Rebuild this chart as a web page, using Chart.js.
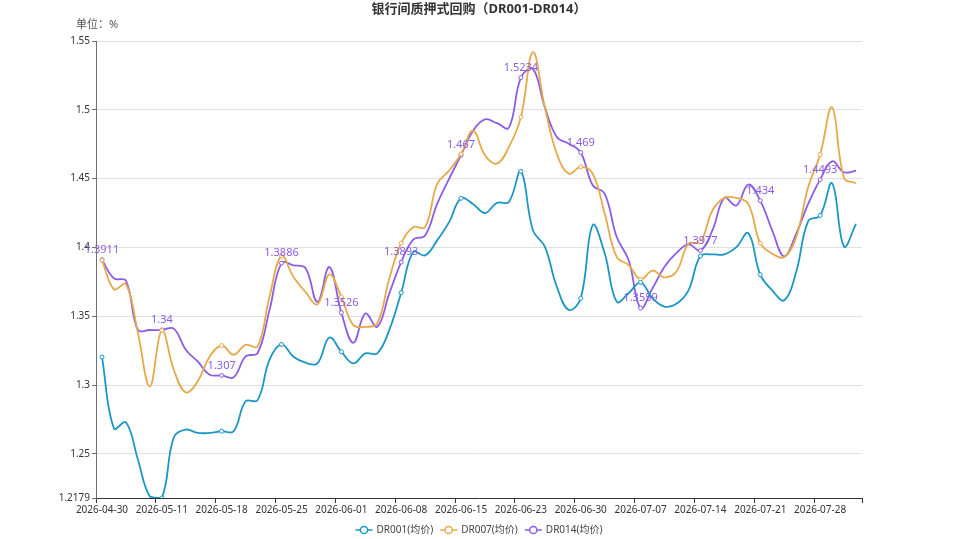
<!DOCTYPE html>
<html>
<head>
<meta charset="utf-8">
<script src="https://cdn.jsdelivr.net/npm/chart.js@4.4.1/dist/chart.umd.min.js"></script>
<style>
  html, body { margin: 0; padding: 0; background: #fff; }
  #wrap { width: 958px; height: 539px; position: relative; }
</style>
</head>
<body>
<div id="wrap"><canvas id="myChart" width="958" height="539"></canvas></div>
<script>
// trading days
const dates = [
  '2026-04-30','2026-05-06','2026-05-07','2026-05-08','2026-05-09',
  '2026-05-11','2026-05-12','2026-05-13','2026-05-14','2026-05-15',
  '2026-05-18','2026-05-19','2026-05-20','2026-05-21','2026-05-22',
  '2026-05-25','2026-05-26','2026-05-27','2026-05-28','2026-05-29',
  '2026-06-01','2026-06-02','2026-06-03','2026-06-04','2026-06-05',
  '2026-06-08','2026-06-09','2026-06-10','2026-06-11','2026-06-12',
  '2026-06-15','2026-06-16','2026-06-17','2026-06-18','2026-06-22',
  '2026-06-23','2026-06-24','2026-06-25','2026-06-26','2026-06-29',
  '2026-06-30','2026-07-01','2026-07-02','2026-07-03','2026-07-06',
  '2026-07-07','2026-07-08','2026-07-09','2026-07-10','2026-07-13',
  '2026-07-14','2026-07-15','2026-07-16','2026-07-17','2026-07-20',
  '2026-07-21','2026-07-22','2026-07-23','2026-07-24','2026-07-27',
  '2026-07-28','2026-07-29','2026-07-30','2026-07-31'
];

const dr001 = [
  1.3203, 1.2684, 1.2729, 1.2459, 1.2190, 1.2179, 1.2620, 1.2676, 1.2652, 1.2652,
  1.2664, 1.2664, 1.2882, 1.2890, 1.3184, 1.3295, 1.3205, 1.3162, 1.3157, 1.3345,
  1.3242, 1.3157, 1.3230, 1.3230, 1.3399, 1.3671, 1.3966, 1.3942, 1.4051, 1.4184,
  1.4357, 1.4316, 1.4250, 1.4324, 1.4331, 1.4553, 1.4126, 1.4005, 1.3715, 1.3546,
  1.3630, 1.4162, 1.3957, 1.3606, 1.3667, 1.3746, 1.3630, 1.3570, 1.3590, 1.3688,
  1.3937, 1.3949, 1.3949, 1.4002, 1.4104, 1.3802, 1.3688, 1.3616, 1.3821, 1.4191,
  1.4232, 1.4466, 1.4007, 1.4171
];

const dr007 = [
  1.3908, 1.3696, 1.3734, 1.3380, 1.2990, 1.3398, 1.3111, 1.2947, 1.3027, 1.3208,
  1.3287, 1.3220, 1.3292, 1.3280, 1.3643, 1.3937, 1.3785, 1.3676, 1.3587, 1.3804,
  1.3640, 1.3435, 1.3423, 1.3447, 1.3773, 1.4031, 1.4147, 1.4147, 1.4461, 1.4558,
  1.4679, 1.4848, 1.4670, 1.4609, 1.4730, 1.4947, 1.5418, 1.5019, 1.4681, 1.4536,
  1.4585, 1.4536, 1.4246, 1.3932, 1.3872, 1.3768, 1.3831, 1.3783, 1.3825, 1.4027,
  1.4039, 1.4268, 1.4360, 1.4360, 1.4316, 1.4031, 1.3954, 1.3930, 1.4075, 1.4437,
  1.4674, 1.5017, 1.4505, 1.4466
];

const dr014 = [
  1.3911, 1.3775, 1.3758, 1.3401, 1.3400, 1.3400, 1.3410, 1.3256, 1.3171, 1.3075,
  1.3070, 1.3056, 1.3208, 1.3232, 1.3546, 1.3886, 1.3870, 1.3850, 1.3604, 1.3857,
  1.3526, 1.3307, 1.3519, 1.3423, 1.3664, 1.3893, 1.4056, 1.4087, 1.4316, 1.4498,
  1.4670, 1.4848, 1.4930, 1.4903, 1.4870, 1.5234, 1.5297, 1.5019, 1.4802, 1.4754,
  1.4690, 1.4452, 1.4391, 1.4077, 1.3908, 1.3559, 1.3703, 1.3860, 1.3960, 1.4022,
  1.3977, 1.4123, 1.4360, 1.4304, 1.4457, 1.4340, 1.4123, 1.3935, 1.4099, 1.4316,
  1.4493, 1.4626, 1.4546, 1.4558
];

const seriesNames = ['DR001(均价)', 'DR007(均价)', 'DR014(均价)'];
const seriesColors = ['#1b96c6', '#e6a94a', '#8c5ce6'];
const yTickValues = [1.2179, 1.25, 1.3, 1.35, 1.4, 1.45, 1.5, 1.55];
const yTickLabels = ['1.2179', '1.25', '1.3', '1.35', '1.4', '1.45', '1.5', '1.55'];

const titleText = '银行间质押式回购（DR001-DR014）';
const unitText = '单位：%';
const FONT = "'Noto Sans', 'Noto Sans CJK SC', sans-serif";

function makeSet(label, data, color) {
    return {
        label: label,
        data: data,
        borderColor: color,
        backgroundColor: '#fff',
        borderWidth: 1.8,
        tension: 0.4,
        pointRadius: ctx => (ctx.dataIndex % 5 === 0 ? 2 : 0),
        pointBorderWidth: 1,
        pointBorderColor: color,
        pointBackgroundColor: '#fff',
        fill: false
    };
}

// title, unit, point labels of DR014 and legend
const decorPlugin = {
    id: 'decor',
    afterDatasetsDraw(chart) {
        const ctx = chart.ctx;
        ctx.save();
        // labels on DR014
        const meta = chart.getDatasetMeta(2);
        ctx.font = '11px ' + FONT;
        ctx.fillStyle = seriesColors[2];
        ctx.textAlign = 'center';
        ctx.textBaseline = 'middle';
        meta.data.forEach(function(pt, i) {
            if (i % 5 !== 0) return;
            ctx.fillText(String(dr014[i]), pt.x, pt.y - 10);
        });
        ctx.restore();
    },
    afterDraw(chart) {
        const ctx = chart.ctx;
        ctx.save();
        ctx.fillStyle = '#333';
        ctx.font = 'bold 13px ' + FONT;
        ctx.textAlign = 'center';
        ctx.textBaseline = 'middle';
        ctx.fillText(titleText, 479, 9);

        ctx.font = '11px ' + FONT;
        ctx.fillStyle = '#555';
        ctx.textAlign = 'left';
        ctx.fillText(unitText, 76, 25);

        // legend
        ctx.font = '10px ' + FONT;
        const iconW = 17, gapIcon = 4, gapItem = 7;
        let widths = seriesNames.map(n => iconW + gapIcon + ctx.measureText(n).width);
        let total = widths.reduce((a, b) => a + b, 0) + gapItem * (seriesNames.length - 1);
        let x = 479 - total / 2;
        const y = 530;
        seriesNames.forEach(function(n, i) {
            ctx.strokeStyle = seriesColors[i];
            ctx.lineWidth = 1.5;
            ctx.beginPath();
            ctx.moveTo(x, y);
            ctx.lineTo(x + iconW, y);
            ctx.stroke();
            ctx.beginPath();
            ctx.fillStyle = '#fff';
            ctx.arc(x + iconW / 2, y, 3.6, 0, Math.PI * 2);
            ctx.fill();
            ctx.stroke();
            ctx.fillStyle = '#444';
            ctx.textAlign = 'left';
            ctx.fillText(n, x + iconW + gapIcon, y + 0.5);
            x += widths[i] + gapItem;
        });
        ctx.restore();
    }
};

const config = {
    type: 'line',
    data: {
        labels: dates,
        datasets: [
            makeSet(seriesNames[0], dr001, seriesColors[0]),
            makeSet(seriesNames[1], dr007, seriesColors[1]),
            makeSet(seriesNames[2], dr014, seriesColors[2])
        ]
    },
    options: {
        responsive: false,
        animation: false,
        layout: { padding: { top: 41, right: 96, bottom: 21, left: 0 } },
        plugins: {
            legend: { display: false },
            title: { display: false },
            tooltip: { enabled: false }
        },
        scales: {
            x: {
                type: 'category',
                offset: true,
                afterFit: function(scale) { scale.height = 20; },
                border: { color: '#333', width: 1 },
                grid: {
                    offset: true,
                    drawOnChartArea: false,
                    tickLength: 5,
                    color: ctx => (ctx.type !== 'tick' || ctx.index % 5 === 0) ? '#333' : 'rgba(0,0,0,0)'
                },
                ticks: {
                    autoSkip: false,
                    maxRotation: 0,
                    padding: 1,
                    color: '#333',
                    font: { size: 10, family: FONT },
                    callback: (v, i) => (i % 5 === 0 ? dates[i] : '')
                }
            },
            y: {
                type: 'linear',
                min: 1.2179,
                max: 1.55,
                afterFit: function(scale) { scale.width = 96; },
                afterBuildTicks: function(scale) {
                    scale.ticks = yTickValues.map(v => ({ value: v }));
                },
                border: { color: '#6e7079', width: 1 },
                grid: {
                    tickLength: 4,
                    color: ctx => (ctx.tick && ctx.tick.value === 1.2179) ? 'rgba(0,0,0,0)' : '#e0e0e0',
                    tickColor: '#6e7079'
                },
                ticks: {
                    padding: 2,
                    color: '#333',
                    font: { size: 10, family: FONT },
                    callback: function(v) {
                        const k = yTickValues.indexOf(v);
                        return k >= 0 ? yTickLabels[k] : '';
                    }
                }
            }
        }
    },
    plugins: [decorPlugin]
};

var myChart = new Chart(document.getElementById('myChart'), config);
</script>
</body>
</html>
